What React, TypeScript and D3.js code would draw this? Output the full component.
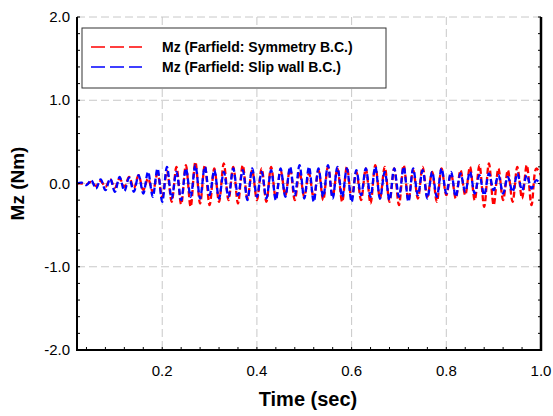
import React from "react";
import * as d3 from "d3";

const xTicks = [0.2, 0.4, 0.6, 0.8, 1.0];
const yTicks = [-2.0, -1.0, 0.0, 1.0, 2.0];
const seriesNames = ["Mz (Farfield: Symmetry B.C.)", "Mz (Farfield: Slip wall B.C.)"];
const seriesColors = ["#ff0000", "#0000ff"];

const redValues = [
  0, 0, -0.01, 0.02, -0.03, 0.03, -0.04, 0.05, -0.05, 0.06,
  -0.04, 0.08, -0.06, 0.1, -0.08, 0.06, -0.1, 0.12, -0.16, 0.15,
  -0.22, 0.2, -0.25, 0.22, -0.28, 0.26, -0.24, 0.22, -0.26, 0.18,
  -0.22, 0.24, -0.2, 0.2, -0.24, 0.22, -0.18, 0.16, -0.2, 0.18,
  -0.22, 0.2, -0.18, 0.16, -0.14, 0.18, -0.2, 0.14, -0.16, 0.12,
  -0.18, 0.16, -0.2, 0.2, -0.16, 0.18, -0.22, 0.2, -0.18, 0.14,
  -0.2, 0.18, -0.24, 0.22, -0.18, 0.2, -0.22, 0.18, -0.26, 0.22,
  -0.2, 0.16, -0.18, 0.2, -0.16, 0.14, -0.22, 0.18, -0.14, 0.12,
  -0.18, 0.16, -0.14, 0.2, -0.2, 0.22, -0.28, 0.24, -0.26, 0.18,
  -0.2, 0.16, -0.22, 0.2, -0.18, 0.22, -0.26, 0.18, 0.1,
];

const blueValues = [
  0, 0.01, -0.02, 0.04, -0.06, 0.05, -0.08, 0.06, -0.1, 0.08,
  -0.09, 0.07, -0.1, 0.1, -0.12, 0.14, -0.16, 0.18, -0.22, 0.2,
  -0.18, 0.14, -0.2, 0.18, -0.16, 0.22, -0.18, 0.2, -0.14, 0.16,
  -0.18, 0.14, -0.16, 0.18, -0.14, 0.16, -0.2, 0.18, -0.16, 0.14,
  -0.18, 0.16, -0.2, 0.18, -0.16, 0.2, -0.14, 0.22, -0.18, 0.2,
  -0.22, 0.18, -0.16, 0.22, -0.18, 0.2, -0.16, 0.18, -0.22, 0.16,
  -0.14, 0.18, -0.16, 0.2, -0.18, 0.14, -0.2, 0.18, -0.16, 0.2,
  -0.22, 0.18, -0.14, 0.16, -0.18, 0.14, -0.16, 0.18, -0.12, 0.14,
  -0.16, 0.12, -0.1, 0.14, -0.12, 0.1, -0.14, 0.12, -0.08, 0.1,
  -0.12, 0.08, -0.1, 0.12, -0.08, 0.1, -0.06, 0.04, -0.02,
];

// sampling grids (seconds)
const redTimes = redValues.map((_, i) => 0.02 + 0.01 * i);
const blueTimes = blueValues.map((_, i) => (i === 0 ? 0.02 : Math.min(1.0, 0.025 + 0.01 * (i - 1) + 0.005)));

const W = 553, H = 416;
const L = 77, R = 541, T = 17, B = 350;

export default function App() {
  const x = d3.scaleLinear().domain([0.02, 1.0]).range([L, R]);
  const y = d3.scaleLinear().domain([-2, 2]).range([B, T]);
  const line = d3.line<[number, number]>().x(d => x(d[0])).y(d => y(d[1])).curve(d3.curveCatmullRom);
  const redPath = line(redTimes.map((t, i) => [t, redValues[i]]) as [number, number][]) || "";
  const bluePath = line(blueTimes.map((t, i) => [t, blueValues[i]]) as [number, number][]) || "";
  const xMinor = d3.range(0.04, 1.0001, 0.04).filter(v => v >= 0.02);
  const yMinor = d3.range(-2, 2.0001, 0.2);
  const font = "Arial, 'Liberation Sans', sans-serif";
  return (
    <svg width={W} height={H} style={{ position: "absolute", left: 0, top: 0, background: "#fff" }} fontFamily={font}>
      <rect x={0} y={0} width={W} height={H} fill="#fff" />
      {/* grid */}
      {xTicks.filter(v => v < 1).map(v => (
        <line key={"gx" + v} x1={x(v)} x2={x(v)} y1={T} y2={B} stroke="#c8c8c8" strokeWidth={1} strokeDasharray="8,4" />
      ))}
      {yTicks.filter(v => v > -2).map(v => (
        <line key={"gy" + v} x1={L} x2={R} y1={y(v)} y2={y(v)} stroke="#c8c8c8" strokeWidth={1} strokeDasharray="8,4" />
      ))}
      <clipPath id="clip"><rect x={L} y={T} width={R - L} height={B - T} /></clipPath>
      <g clipPath="url(#clip)">
        <path d={redPath} fill="none" stroke={seriesColors[0]} strokeWidth={2.3} strokeDasharray="6,3" />
        <path d={bluePath} fill="none" stroke={seriesColors[1]} strokeWidth={2.3} strokeDasharray="6,3" />
      </g>
      {/* axes */}
      <line x1={L} x2={L} y1={T} y2={B + 1} stroke="#000" strokeWidth={2} />
      <line x1={R} x2={R} y1={T} y2={B + 1} stroke="#000" strokeWidth={2.5} />
      <line x1={L} x2={R} y1={B} y2={B} stroke="#000" strokeWidth={2} />
      {/* minor ticks */}
      {xMinor.map(v => (
        <g key={"xm" + v}>
          <line x1={x(v)} x2={x(v)} y1={B} y2={B - 3} stroke="#000" strokeWidth={1} />
        </g>
      ))}
      {yMinor.map(v => (
        <g key={"ym" + v}>
          <line x1={L} x2={L + 3} y1={y(v)} y2={y(v)} stroke="#000" strokeWidth={1} />
          <line x1={R} x2={R - 3} y1={y(v)} y2={y(v)} stroke="#000" strokeWidth={1} />
        </g>
      ))}
      {/* tick labels */}
      {xTicks.map(v => (
        <text key={"xl" + v} x={x(v)} y={376} textAnchor="middle" fontSize={15} fill="#000">{v.toFixed(1)}</text>
      ))}
      {yTicks.map(v => (
        <text key={"yl" + v} x={70} y={y(v) + 5} textAnchor="end" fontSize={15} fill="#000">{v.toFixed(1)}</text>
      ))}
      <text x={308} y={406} textAnchor="middle" fontSize={20} fontWeight="bold">Time (sec)</text>
      <text transform={`translate(24,${(T + B) / 2}) rotate(-90)`} textAnchor="middle" fontSize={19} fontWeight="bold">Mz (Nm)</text>
      {/* legend */}
      <rect x={82} y={28} width={304} height={60} fill="#fff" stroke="#333" strokeWidth={1} />
      {seriesNames.map((n, i) => (
        <g key={n}>
          <line x1={91} x2={142} y1={47 + i * 20} y2={47 + i * 20} stroke={seriesColors[i]} strokeWidth={1.5} strokeDasharray="14,5" />
          <text x={162} y={52 + i * 20} fontSize={14} fontWeight="bold">{n}</text>
        </g>
      ))}
    </svg>
  );
}
